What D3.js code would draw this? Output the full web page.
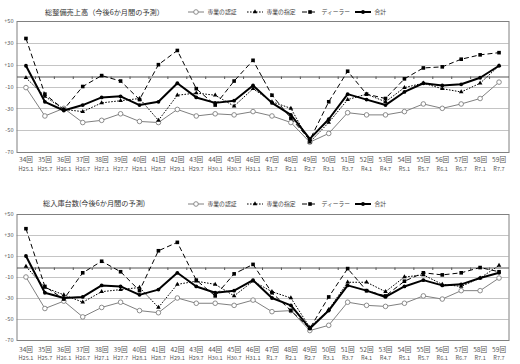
<!DOCTYPE html>
<html><head><meta charset="utf-8">
<script src="https://cdn.jsdelivr.net/npm/d3@7"></script>
<style>body{margin:0;background:#fff} svg{display:block}</style>
</head><body>
<svg id="c" width="520" height="364"></svg>
<script>
const categories = ["34回","35回","36回","37回","38回","39回","40回","41回","42回","43回","44回","45回","46回","47回","48回","49回","50回","51回","52回","53回","54回","55回","56回","57回","58回","59回"];
const periods = ["H25.1","H25.7","H26.1","H26.7","H27.1","H27.7","H28.1","H28.7","H29.1","H29.7","H30.1","H30.7","H31.1","R1.7","R2.1","R2.7","R3.1","R3.7","R4.1","R4.7","R5.1","R5.7","R6.1","R6.7","R7.1","R7.7"];
const yTicks = [50,30,10,-10,-30,-50,-70];
const seriesNames = ["専業の認証","専業の指定","ディーラー","合計"];
const titleSales = "総整備売上高（今後6か月間の予測）";
const titleCount = "総入庫台数(今後6か月間の予測)";

// 総整備売上高
const salesCert   = [-11,-37,-30,-43,-41,-35,-42,-43,-31,-37,-35,-36,-33,-37,-43,-61,-53,-34,-36,-36,-33,-26,-30,-26,-21,-6];
const salesDesig  = [-2,-19,-31,-33,-25,-23,-21,-41,-18,-16,-18,-28,-12,-24,-30,-61,-43,-22,-17,-24,-11,-7,-12,-15,-7,9];
const salesDealer = [34,-17,-31,-10,0,-5,-22,10,23,-12,-27,-5,14,-18,-39,-59,-24,4,-17,-21,-3,7,8,15,19,21];
const salesTotal  = [9,-24,-32,-27,-20,-19,-27,-24,-7,-20,-25,-23,-9,-25,-36,-58,-40,-17,-22,-27,-15,-7,-9,-8,-2,9];

// 総入庫台数
const countCert   = [-10,-40,-33,-48,-39,-34,-42,-44,-30,-35,-35,-37,-32,-43,-42,-61,-56,-34,-37,-38,-35,-28,-31,-23,-23,-11];
const countDesig  = [0,-20,-27,-34,-24,-22,-20,-39,-17,-14,-17,-28,-14,-24,-30,-58,-41,-15,-15,-24,-10,-8,-17,-19,-11,1];
const countDealer = [36,-19,-31,-6,5,-5,-23,15,23,-13,-28,-7,2,-25,-42,-59,-29,-2,-23,-28,-14,-6,-8,-6,-1,-5];
const countTotal  = [10,-25,-30,-29,-18,-19,-27,-22,-6,-19,-25,-23,-13,-30,-37,-59,-42,-18,-23,-29,-19,-13,-18,-17,-11,-6];

const svg = d3.select("#c");
const FONT = "'Noto Sans CJK JP', 'Noto Sans', sans-serif";

const styles = [
  {stroke:"#808080", width:1, dash:null, marker:"circle-open"},
  {stroke:"#000", width:1, dash:"1.6,1.4", marker:"triangle"},
  {stroke:"#000", width:1, dash:"5,3", marker:"square"},
  {stroke:"#000", width:2, dash:null, marker:"dot"}
];

function drawMarker(g, type, cx, cy) {
  if (type === "circle-open") {
    g.append("circle").attr("cx",cx).attr("cy",cy).attr("r",2.3).attr("fill","#fff").attr("stroke","#808080").attr("stroke-width",0.9);
  } else if (type === "triangle") {
    g.append("path").attr("d",d3.symbol(d3.symbolTriangle, 9)()).attr("transform",`translate(${cx},${cy})`).attr("fill","#000");
  } else if (type === "square") {
    g.append("rect").attr("x",cx-1.8).attr("y",cy-1.8).attr("width",3.6).attr("height",3.6).attr("fill","#000");
  } else {
    g.append("circle").attr("cx",cx).attr("cy",cy).attr("r",1.9).attr("fill","#000");
  }
}

function panel(opt) {
  const g = svg.append("g");
  const x = d3.scaleBand().domain(categories).range([opt.left, opt.right]);
  const y = d3.scaleLinear().domain([-70, 50]).range([opt.bottom, opt.top]);
  const cx = c => x(c) + x.bandwidth() / 2;

  // gridlines
  g.selectAll("line.grid").data(yTicks.filter(d => d !== 50 && d !== -70)).join("line")
    .attr("class","grid")
    .attr("x1", opt.left).attr("x2", opt.right)
    .attr("y1", d => Math.round(y(d)) + 0.5).attr("y2", d => Math.round(y(d)) + 0.5)
    .attr("stroke", "#c4c4c4").attr("stroke-width", 1);

  // frame
  g.append("rect").attr("x", opt.left + 0.5).attr("y", Math.round(y(50)) + 0.5)
    .attr("width", opt.right - opt.left).attr("height", Math.round(y(-70)) - Math.round(y(50)))
    .attr("fill", "none").attr("stroke", "#808080").attr("stroke-width", 1);

  // y axis labels
  const ya = d3.axisLeft(y).tickValues(yTicks).tickSize(0).tickPadding(3)
    .tickFormat(d => d > 0 ? "+" + d : String(d));
  const yg = g.append("g").attr("transform", `translate(${opt.left},0)`).call(ya);
  yg.select(".domain").remove();
  yg.selectAll("text").attr("font-family", FONT).attr("font-size", 5.6).attr("fill", "#555");

  // zero axis with category ticks
  const y0 = Math.round(y(0)) + 0.5;
  const xa = d3.axisBottom(x).tickSize(2.5).tickFormat("").tickSizeOuter(0);
  const xg = g.append("g").attr("transform", `translate(0,${y0})`).call(xa);
  xg.select(".domain").attr("stroke", "#555");
  xg.selectAll(".tick line").attr("stroke", "#555")
    .attr("transform", `translate(${-x.bandwidth()/2},0)`);
  xg.selectAll(".tick").filter((d,i) => i === 0).remove();

  // category labels
  const lab = g.append("g");
  categories.forEach((c, i) => {
    lab.append("text").attr("x", cx(c)).attr("y", opt.labY1).attr("text-anchor","middle")
      .attr("font-family", FONT).attr("font-size", 6.6).attr("fill", "#555").text(c);
    lab.append("text").attr("x", cx(c)).attr("y", opt.labY2).attr("text-anchor","middle")
      .attr("font-family", FONT).attr("font-size", 5.6).attr("fill", "#555").text(periods[i]);
  });

  // series
  const order = [0, 1, 2, 3];
  order.forEach(k => {
    const vals = opt.series[k];
    const st = styles[k];
    const line = d3.line().x((d, i) => cx(categories[i])).y(d => y(d));
    g.append("path").attr("d", line(vals)).attr("fill","none")
      .attr("stroke", st.stroke).attr("stroke-width", st.width)
      .attr("stroke-dasharray", st.dash).attr("stroke-linejoin","round");
    const mg = g.append("g");
    vals.forEach((v, i) => drawMarker(mg, st.marker, cx(categories[i]), y(v)));
  });

  // title
  svg.append("text").attr("x", opt.titleX).attr("y", opt.titleY)
    .attr("font-family", FONT).attr("font-size", 7.2).attr("fill", "#333").text(opt.title);

  // legend
  const lx = [188, 247, 302, 355];
  const lg = svg.append("g");
  seriesNames.forEach((n, k) => {
    const st = styles[k];
    const x1 = lx[k], x2 = lx[k] + 16;
    lg.append("line").attr("x1", x1).attr("x2", x2).attr("y1", opt.legY).attr("y2", opt.legY)
      .attr("stroke", st.stroke).attr("stroke-width", st.width).attr("stroke-dasharray", st.dash);
    drawMarker(lg, st.marker, (x1 + x2) / 2, opt.legY);
    lg.append("text").attr("x", x2 + 3.5).attr("y", opt.legY + 2)
      .attr("font-family", FONT).attr("font-size", 5.8).attr("fill", "#444").text(n);
  });
}

panel({left:16.5, right:508.5, top:21, bottom:152, labY1:162, labY2:171,
  series:[salesCert, salesDesig, salesDealer, salesTotal],
  title:titleSales, titleX:45, titleY:15, legY:12});
panel({left:16.5, right:508.5, top:214, bottom:340, labY1:351.5, labY2:359.5,
  series:[countCert, countDesig, countDealer, countTotal],
  title:titleCount, titleX:43, titleY:206, legY:204});
</script>
</body></html>
